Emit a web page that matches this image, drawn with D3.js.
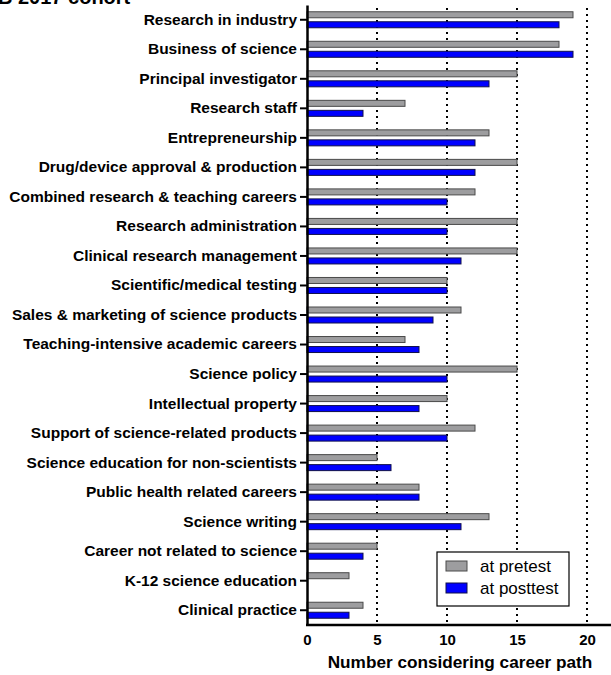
<!DOCTYPE html>
<html><head><meta charset="utf-8">
<script src="https://cdn.jsdelivr.net/npm/d3@7"></script>
<style>body{margin:0;background:#fff}svg{display:block}text{font-family:"Liberation Sans",Arial,sans-serif}</style>
</head><body>
<svg id="c" width="611" height="675"></svg>
<script>
const categories = ["Research in industry","Business of science","Principal investigator","Research staff","Entrepreneurship","Drug/device approval & production","Combined research & teaching careers","Research administration","Clinical research management","Scientific/medical testing","Sales & marketing of science products","Teaching-intensive academic careers","Science policy","Intellectual property","Support of science-related products","Science education for non-scientists","Public health related careers","Science writing","Career not related to science","K-12 science education","Clinical practice"];
const pretest  = [19,18,15,7,13,15,12,15,15,10,11,7,15,10,12,5,8,13,5,3,4];
const posttest = [18,19,13,4,12,12,10,10,11,10,9,8,10,8,10,6,8,11,4,0,3];
const seriesNames = ["at pretest","at posttest"];
const xTicks = [0,5,10,15,20];

const svg = d3.select("#c");
const x0 = 307, yT = 5, yB = 625;
const x = d3.scaleLinear().domain([0,22]).range([x0, x0 + 22*14]);
const y = d3.scaleBand().domain(categories).range([yT, yB]);
const bh = 6;

// title (clipped at top, as in the reference)
svg.append("text").attr("x",-2).attr("y",4).attr("font-size",20).attr("font-weight","bold").text("B 2017 cohort");

// grid
svg.append("g").selectAll("line").data(xTicks.filter(d=>d>0)).join("line")
  .attr("x1",d=>x(d)).attr("x2",d=>x(d)).attr("y1",yT+3).attr("y2",yB)
  .attr("stroke","#000").attr("stroke-width",2).attr("stroke-dasharray","2,4");

// bars
const g = svg.append("g");
g.selectAll(".pre").data(categories).join("rect")
  .attr("x",x(0)).attr("y",d=>y(d)+y.bandwidth()/2-2-bh)
  .attr("width",(d,i)=>Math.max(0,x(pretest[i])-x(0))).attr("height",bh)
  .attr("fill","#9d9d9f").attr("stroke","#4a4a4a").attr("stroke-width",1)
  .style("display",(d,i)=>pretest[i]>0?null:"none");
g.selectAll(".post").data(categories).join("rect")
  .attr("x",x(0)).attr("y",d=>y(d)+y.bandwidth()/2+2)
  .attr("width",(d,i)=>Math.max(0,x(posttest[i])-x(0))).attr("height",bh)
  .attr("fill","#0000ff").attr("stroke","#10104a").attr("stroke-width",1)
  .style("display",(d,i)=>posttest[i]>0?null:"none");

// y axis
const ya = svg.append("g").attr("transform",`translate(${x0},0)`)
  .call(d3.axisLeft(y).tickSize(7).tickPadding(3).tickSizeOuter(0));
ya.select(".domain").attr("stroke-width",2.5);
ya.selectAll(".tick line").attr("stroke-width",2);
ya.selectAll(".tick text").attr("font-size",15.5).attr("font-weight","bold").attr("fill","#000")
  .style("font-family","'Liberation Sans',Arial,sans-serif");

// x axis
const xa = svg.append("g").attr("transform",`translate(0,${yB})`)
  .call(d3.axisBottom(x).tickValues(xTicks).tickSize(0).tickPadding(9).tickSizeOuter(0));
xa.select(".domain").attr("stroke-width",2.5).attr("d",`M${x0-1},0H611`);
xa.selectAll(".tick text").attr("font-size",15).attr("font-weight","bold").attr("fill","#000")
  .style("font-family","'Liberation Sans',Arial,sans-serif");

svg.append("text").attr("x",460).attr("y",668).attr("text-anchor","middle")
  .attr("font-size",17.2).attr("font-weight","bold").text("Number considering career path");

// legend
const lg = svg.append("g");
lg.append("rect").attr("x",437).attr("y",552).attr("width",132).attr("height",54)
  .attr("fill","#fff").attr("stroke","#000").attr("stroke-width",1.2);
const lcol = [["#9d9d9f","#4a4a4a"],["#0000ff","#10104a"]];
seriesNames.forEach((s,i)=>{
  lg.append("rect").attr("x",446).attr("y",561+i*22).attr("width",21).attr("height",10)
    .attr("fill",lcol[i][0]).attr("stroke",lcol[i][1]);
  lg.append("text").attr("x",480).attr("y",572+i*22).attr("font-size",17).text(s);
});
</script>
</body></html>
